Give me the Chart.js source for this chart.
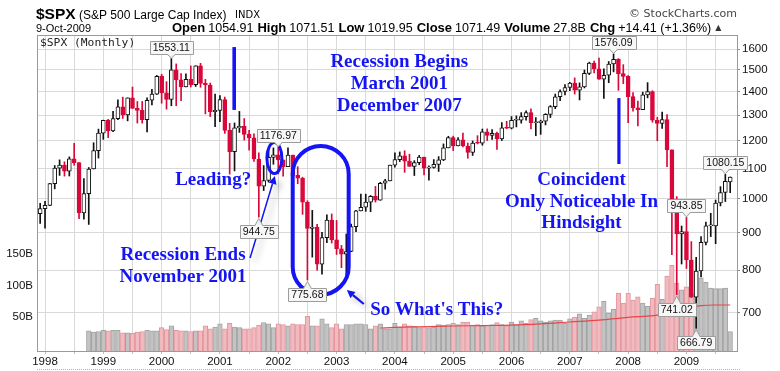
<!DOCTYPE html>
<html>
<head>
<meta charset="utf-8">
<title>$SPX Monthly</title>
<script src="https://cdn.jsdelivr.net/npm/chart.js@4.4.1/dist/chart.umd.min.js"></script>
<style>
html,body{margin:0;padding:0;background:#fff;overflow:hidden;}
#box{position:relative;width:780px;height:371px;}
canvas{display:block;}
</style>
</head>
<body>
<div id="box"><canvas id="chart" width="780" height="371"></canvas></div>
<script>
// ================= DATA =================
// Monthly bars from Dec 1997 to Oct 2009 (x = months since Jan 1998)
const firstMonthIndex = -1;
const yearLabels = ['1998','1999','2000','2001','2002','2003','2004','2005','2006','2007','2008','2009'];
const gridMonths = [0,6,12,18,24,30,36,42,48,54,60,66,72,78,84,90,96,102,108,114,120,126,132,138];
const priceTicks = [700,800,900,1000,1100,1200,1300,1400,1500,1600];
const volTicks = [50,100,150];

const opens = [955.40,
 970.43,980.28,1049.34,1101.75,1111.75,1090.82,1133.84,1120.67,957.28,1017.01,1098.67,1163.63,
 1229.23,1279.64,1238.33,1286.37,1335.18,1301.84,1372.71,1328.72,1320.41,1282.71,1362.93,1388.91,
 1469.25,1394.46,1366.42,1498.58,1452.43,1420.60,1454.60,1430.83,1517.68,1436.51,1429.40,1314.95,
 1320.28,1366.01,1239.94,1160.33,1249.46,1255.82,1224.42,1211.23,1133.58,1040.94,1059.78,1139.45,
 1148.08,1130.20,1106.73,1147.39,1076.92,1067.14,989.82,911.62,916.07,815.28,885.76,936.31,
 879.82,855.70,841.15,848.18,916.92,963.59,974.50,990.31,1008.01,995.97,1050.71,1058.20,
 1111.92,1131.13,1144.94,1126.21,1107.30,1120.68,1140.84,1101.72,1104.24,1114.58,1130.20,1173.82,
 1211.92,1181.27,1203.60,1180.59,1156.85,1191.50,1191.33,1234.18,1220.33,1228.81,1207.01,1249.48,
 1248.29,1280.08,1280.66,1294.83,1310.61,1270.09,1270.20,1276.66,1303.82,1335.85,1377.94,1400.63,
 1418.30,1438.24,1406.82,1420.86,1482.37,1530.62,1503.35,1455.27,1473.99,1526.75,1549.38,1481.14,
 1468.36,1378.55,1330.63,1322.70,1385.59,1400.38,1280.00,1267.38,1282.83,1166.36,968.75,896.24,
 903.25,825.88,735.09,797.87,872.81,919.14,919.32,987.48,1020.62,1054.91];

const highs = [986.25,
 992.65,1050.66,1110.58,1130.52,1123.86,1141.16,1190.58,1121.20,1066.11,1103.78,1192.97,1244.93,
 1280.37,1283.75,1316.55,1364.87,1375.98,1372.93,1420.33,1357.48,1357.74,1373.17,1410.39,1473.10,
 1478.00,1444.55,1553.11,1527.19,1481.51,1480.80,1517.32,1518.53,1530.09,1454.82,1438.46,1389.06,
 1383.37,1376.38,1267.42,1269.30,1315.93,1286.62,1239.78,1226.27,1155.40,1110.61,1163.38,1173.62,
 1176.97,1130.20,1173.94,1147.84,1106.59,1070.74,994.46,965.00,924.02,900.69,951.57,954.28,
 935.05,864.64,895.90,924.24,965.38,1015.33,1015.41,1011.01,1040.29,1053.79,1063.65,1112.56,
 1155.38,1158.98,1163.23,1150.57,1127.74,1146.34,1140.84,1109.68,1131.54,1142.05,1188.46,1217.33,
 1217.80,1212.16,1229.11,1191.88,1199.56,1219.59,1245.15,1245.86,1243.13,1233.34,1270.64,1275.80,
 1294.90,1297.57,1310.88,1318.16,1326.70,1290.68,1280.42,1306.74,1340.28,1389.45,1407.89,1431.81,
 1441.61,1461.57,1438.89,1498.02,1535.56,1540.56,1555.90,1503.89,1538.74,1576.09,1552.76,1523.57,
 1471.77,1396.02,1359.68,1397.84,1440.24,1404.05,1292.17,1313.15,1303.04,1167.03,1007.51,918.85,
 943.85,875.01,832.98,888.70,930.17,956.23,996.68,1039.47,1080.15,1071.51];

const lows = [926.00,
 912.83,979.68,1032.38,1076.70,1074.39,1074.67,1111.79,939.98,939.01,923.32,1098.67,1136.89,
 1205.46,1211.89,1234.67,1282.56,1287.20,1277.47,1328.72,1268.68,1268.37,1233.70,1343.03,1387.38,
 1350.14,1325.07,1339.40,1339.40,1361.09,1420.60,1420.60,1422.67,1419.44,1305.79,1294.90,1254.07,
 1274.62,1228.33,1081.19,1091.99,1232.00,1203.03,1165.54,1124.87,944.75,1026.76,1054.31,1114.93,
 1081.66,1074.36,1106.73,1063.46,1048.96,952.92,775.68,833.44,800.20,790.00,872.05,871.10,
 840.34,806.29,788.90,847.85,902.83,963.59,962.10,960.84,990.36,995.97,1031.20,1058.20,
 1105.08,1124.44,1087.16,1107.23,1076.32,1113.32,1078.78,1060.72,1101.29,1090.19,1127.60,1173.76,
 1163.75,1180.95,1176.92,1136.15,1146.18,1188.30,1183.55,1201.07,1205.35,1168.20,1201.07,1246.59,
 1245.74,1253.61,1268.42,1280.74,1245.34,1219.29,1224.54,1261.30,1290.93,1327.10,1360.98,1385.93,
 1403.97,1389.42,1363.98,1416.37,1476.70,1484.18,1454.25,1370.60,1439.76,1489.56,1406.10,1435.65,
 1270.05,1316.75,1256.98,1324.35,1373.07,1272.00,1200.44,1247.45,1106.42,839.80,741.02,815.69,
 804.22,734.52,666.79,783.32,866.10,888.86,869.32,978.51,991.97,1019.95];

const closes = [970.43,
 980.28,1049.34,1101.75,1111.75,1090.82,1133.84,1120.67,957.28,1017.01,1098.67,1163.63,1229.23,
 1279.64,1238.33,1286.37,1335.18,1301.84,1372.71,1328.72,1320.41,1282.71,1362.93,1388.91,1469.25,
 1394.46,1366.42,1498.58,1452.43,1420.60,1454.60,1430.83,1517.68,1436.51,1429.40,1314.95,1320.28,
 1366.01,1239.94,1160.33,1249.46,1255.82,1224.42,1211.23,1133.58,1040.94,1059.78,1139.45,1148.08,
 1130.20,1106.73,1147.39,1076.92,1067.14,989.82,911.62,916.07,815.28,885.76,936.31,879.82,
 855.70,841.15,848.18,916.92,963.59,974.50,990.31,1008.01,995.97,1050.71,1058.20,1111.92,
 1131.13,1144.94,1126.21,1107.30,1120.68,1140.84,1101.72,1104.24,1114.58,1130.20,1173.82,1211.92,
 1181.27,1203.60,1180.59,1156.85,1191.50,1191.33,1234.18,1220.33,1228.81,1207.01,1249.48,1248.29,
 1280.08,1280.66,1294.83,1310.61,1270.09,1270.20,1276.66,1303.82,1335.85,1377.94,1400.63,1418.30,
 1438.24,1406.82,1420.86,1482.37,1530.62,1503.35,1455.27,1473.99,1526.75,1549.38,1481.14,1468.36,
 1378.55,1330.63,1322.70,1385.59,1400.38,1280.00,1267.38,1282.83,1166.36,968.75,896.24,903.25,
 825.88,735.09,797.87,872.81,919.14,919.32,987.48,1020.62,1057.08,1071.49];

// monthly volume, billions of shares (none before Oct 1998)
const volumes = [null,
 null,null,null,null,null,null,null,null,null,28,26,27,
 29,28,29,29,25,25,24,26,27,29,28,28,
 33,30,36,29,28,28,27,28,28,36,31,34,
 39,31,40,34,33,31,31,33,37,41,39,33,
 39,38,36,39,38,38,51,36,36,47,39,33,
 39,31,38,38,39,39,38,31,36,39,31,31,
 40,34,39,36,35,33,35,33,34,38,37,38,
 40,38,42,42,37,38,36,37,38,41,38,36,
 42,38,44,40,46,48,44,42,44,45,45,40,
 47,50,55,48,53,58,66,75,56,62,88,72,
 88,77,82,72,67,80,102,78,115,132,104,93,
 98,88,122,112,105,96,95,95,96,27];

// volume moving average
const volMaMonths = [69,72,78,84,90,96,102,108,114,120,126,129,132,135,138,141];
const volMaValues = [32.5,33.5,34.5,35.7,36.3,37,39,42,45,49.5,53,58,64,68,69,69];

const headerStats = [['Open','1054.91'],['High','1071.51'],['Low','1019.95'],['Close','1071.49'],['Volume','27.8B'],['Chg','+14.41 (+1.36%)']];

// ================= DERIVED =================
const monthX = closes.map((_, k) => firstMonthIndex + k);
const upMonth = closes.map((c, k) => c >= (k > 0 ? closes[k - 1] : opens[k]));
const RED = '#d9083a', BLACK = '#111111', BLUE = '#1414f5';
const X_MIN = -1.65, X_MAX = 142.4, P_MIN = 621, P_MAX = 1672, V_MIN = -4, V_MAX = 497.6;

// annotation anchors
const callouts = [
  {k:27, field:'high'}, {k:49, field:'high'}, {k:45, field:'low'}, {k:55, field:'low'},
  {k:118, field:'high'}, {k:133, field:'high'}, {k:131, field:'low'}, {k:135, field:'low'}, {k:141, field:'high'}
];
const notes = [
  {x:72.9, p:1511, lines:['Recession Begins','March 2001','December 2007']},
  {x:34.6, p:1045, lines:['Leading?']},
  {x:28.4, p:826, lines:['Recession Ends','November 2001']},
  {x:80.6, p:695, lines:["So What's This?"]},
  {x:110.4, p:1045, lines:['Coincident','Only Noticeable In','Hindsight']}
];
const vlines = [{x:38.93, p1:1610, p2:1322, w:3.6}, {x:118.1, p1:1372, p2:1116, w:3.2}];
const ellipseNote = {x:47.2, p:1137, rx:7.5, ry:15.5, w:3};
const stadiumNote = {x1:50.97, x2:62.49, p1:1180.7, p2:740.8, w:4};
const arrows = [{x1:42.2, p1:831, x2:47.3, p2:1075, w:1.5}, {x1:65.6, p1:719.6, x2:62.1, p2:751.8, w:2.2}];

// ================= PLUGIN =================
function arrowPath(ctx, x1, y1, x2, y2, w, head) {
  const a = Math.atan2(y2 - y1, x2 - x1);
  const bx = x2 - head * Math.cos(a), by = y2 - head * Math.sin(a);
  ctx.lineWidth = w;
  ctx.beginPath(); ctx.moveTo(x1, y1); ctx.lineTo(bx, by); ctx.stroke();
  ctx.beginPath();
  ctx.moveTo(x2, y2);
  ctx.lineTo(bx + head * 0.5 * Math.sin(a), by - head * 0.5 * Math.cos(a));
  ctx.lineTo(bx - head * 0.5 * Math.sin(a), by + head * 0.5 * Math.cos(a));
  ctx.closePath(); ctx.fill();
}

const overlay = {
  id: 'overlay',
  afterDatasetsDraw(chart) {
    const ctx = chart.ctx, ca = chart.chartArea;
    const px = v => chart.scales.x.getPixelForValue(v);
    const py = v => chart.scales.y.getPixelForValue(v);
    ctx.save();
    // top frame line
    ctx.strokeStyle = '#9a9a9a'; ctx.lineWidth = 1;
    ctx.beginPath(); ctx.moveTo(ca.left, ca.top + 0.5); ctx.lineTo(ca.right, ca.top + 0.5); ctx.stroke();

    // chart name
    ctx.fillStyle = '#222'; ctx.font = '11.3px "DejaVu Sans Mono"'; ctx.textBaseline = 'alphabetic'; ctx.textAlign = 'left';
    ctx.fillText('$SPX (Monthly)', ca.left + 3, ca.top + 11);

    // blue shapes
    ctx.strokeStyle = BLUE; ctx.fillStyle = BLUE;
    vlines.forEach(l => { ctx.lineWidth = l.w; ctx.beginPath(); ctx.moveTo(px(l.x), py(l.p1)); ctx.lineTo(px(l.x), py(l.p2)); ctx.stroke(); });
    ctx.lineWidth = ellipseNote.w;
    ctx.beginPath(); ctx.ellipse(px(ellipseNote.x), py(ellipseNote.p), ellipseNote.rx, ellipseNote.ry, 0, 0, Math.PI * 2); ctx.stroke();
    {
      const l = px(stadiumNote.x1), r = px(stadiumNote.x2), t = py(stadiumNote.p1), b = py(stadiumNote.p2);
      const rad = (r - l) / 2;
      ctx.lineWidth = stadiumNote.w;
      ctx.beginPath();
      ctx.moveTo(l, t + rad);
      ctx.arc(l + rad, t + rad, rad, Math.PI, 0);
      ctx.lineTo(r, b - rad);
      ctx.arc(l + rad, b - rad, rad, 0, Math.PI);
      ctx.closePath(); ctx.stroke();
    }
    ctx.save();
    ctx.shadowColor = 'rgba(0,0,0,0.28)'; ctx.shadowBlur = 6; ctx.shadowOffsetX = 5; ctx.shadowOffsetY = 4;
    arrows.forEach(a => arrowPath(ctx, px(a.x1), py(a.p1), px(a.x2), py(a.p2), a.w, 8));
    ctx.restore();

    // blue notes
    ctx.fillStyle = BLUE; ctx.font = 'bold 19px "Liberation Serif"'; ctx.textAlign = 'center';
    notes.forEach(n => { n.lines.forEach((s, i) => ctx.fillText(s, px(n.x), py(n.p) + i * 21.6)); });

    // value callouts
    ctx.font = '10.5px "Liberation Sans"';
    callouts.forEach(c => {
      const v = c.field === 'high' ? highs[c.k] : lows[c.k];
      const txt = v.toFixed(2);
      const x = px(monthX[c.k]), y = py(v);
      const w = Math.round(ctx.measureText(txt).width + 6), h = 13;
      const bx = Math.round(x - w / 2) + 0.5;
      const by = c.field === 'high' ? Math.round(y - 5 - h) + 0.5 : Math.round(y + 8) + 0.5;
      ctx.fillStyle = '#f7f7f7'; ctx.strokeStyle = '#9c9c9c'; ctx.lineWidth = 1;
      ctx.beginPath(); ctx.rect(bx, by, w, h); ctx.fill(); ctx.stroke();
      ctx.beginPath();
      if (c.field === 'high') { ctx.moveTo(x - 4, by + h); ctx.lineTo(x, y - 0.5); ctx.lineTo(x + 4, by + h); }
      else { ctx.moveTo(x - 4, by); ctx.lineTo(x, y + 1.5); ctx.lineTo(x + 4, by); }
      ctx.fillStyle = '#f0f0f0'; ctx.fill(); ctx.stroke();
      ctx.fillStyle = '#f7f7f7'; ctx.fillRect(x - 3, c.field === 'high' ? by + h - 1 : by - 0.5, 6, 1.5);
      ctx.fillStyle = '#111'; ctx.textAlign = 'center'; ctx.textBaseline = 'middle';
      ctx.fillText(txt, x, by + h / 2 + 0.5);
    });
    ctx.restore();
  },
  afterDraw(chart) {
    const ctx = chart.ctx;
    ctx.save();
    ctx.textAlign = 'left'; ctx.textBaseline = 'alphabetic'; ctx.fillStyle = '#000';
    ctx.font = 'bold 15.5px "Liberation Sans"'; ctx.fillText('$SPX', 36, 18.5);
    ctx.font = '12px "Liberation Sans"'; ctx.fillText('(S&P 500 Large Cap Index)', 79, 18.5);
    ctx.font = '10px "DejaVu Sans"'; ctx.fillText('INDX', 235, 18);
    ctx.font = '11px "DejaVu Sans"'; ctx.fillStyle = '#444'; ctx.textAlign = 'right';
    ctx.fillText('\u00A9 StockCharts.com', 737, 17);
    ctx.textAlign = 'left'; ctx.fillStyle = '#000';
    ctx.font = '11px "Liberation Sans"'; ctx.fillText('9-Oct-2009', 36, 31.5);
    let x = 172;
    headerStats.forEach(([l, v]) => {
      ctx.font = 'bold 13px "Liberation Sans"'; ctx.fillText(l, x, 31.5); x += ctx.measureText(l).width + 3;
      ctx.font = '12.5px "Liberation Sans"'; ctx.fillText(v, x, 31.5); x += ctx.measureText(v).width + 4;
    });
    ctx.fillStyle = '#333'; ctx.font = '8px "DejaVu Sans"'; ctx.fillText('\u25B2', x, 30);
    // bottom dotted rule
    ctx.strokeStyle = '#b5b5b5'; ctx.lineWidth = 1; ctx.setLineDash([1, 1]);
    ctx.beginPath(); ctx.moveTo(37, 369.5); ctx.lineTo(740, 369.5); ctx.stroke();
    ctx.restore();
  }
};

// ================= CHART =================
Chart.defaults.font.family = '"Liberation Sans", Arial, sans-serif';
Chart.defaults.font.size = 11;
Chart.defaults.color = '#222';

new Chart(document.getElementById('chart'), {
  type: 'bar',
  data: {
    datasets: [
      {
        type: 'bar', label: 'Volume', yAxisID: 'yVol',
        data: volumes.map((v, k) => ({x: monthX[k], y: v})),
        backgroundColor: upMonth.map(u => u ? '#c3c3c3' : '#f1babf'),
        borderColor: upMonth.map(u => u ? '#a3a3a3' : '#e2959d'),
        borderWidth: 1, borderSkipped: 'start', barThickness: 4.6, grouped: false, base: V_MIN, order: 10
      },
      {
        type: 'line', label: 'Volume MA', yAxisID: 'yVol',
        data: volMaMonths.map((m, j) => ({x: m, y: volMaValues[j]})),
        borderColor: '#e6464c', borderWidth: 1.2, pointRadius: 0, tension: 0.35, cubicInterpolationMode: 'monotone', order: 9
      },
      {
        type: 'bar', label: 'Range', yAxisID: 'y',
        data: monthX.map((x, k) => ({x, y: [lows[k], highs[k]]})),
        backgroundColor: upMonth.map(u => u ? BLACK : RED),
        borderWidth: 0, barThickness: 1, grouped: false, order: 2
      },
      {
        type: 'bar', label: 'Body', yAxisID: 'y',
        data: monthX.map((x, k) => ({x, y: [opens[k], closes[k]]})),
        backgroundColor: closes.map((c, k) => c < opens[k] ? RED : '#ffffff'),
        borderColor: upMonth.map(u => u ? BLACK : RED),
        borderWidth: 1, borderSkipped: false, barThickness: 4, minBarLength: 1, grouped: false, order: 1
      }
    ]
  },
  options: {
    responsive: false, animation: false, devicePixelRatio: 1, events: [],
    layout: {padding: {top: 35, left: 0, right: 0, bottom: 0}},
    plugins: {legend: {display: false}, tooltip: {enabled: false}},
    scales: {
      x: {
        type: 'linear', min: X_MIN, max: X_MAX, offset: false,
        afterBuildTicks: s => { s.ticks = gridMonths.map(v => ({value: v})); },
        afterFit: s => { s.height = 20; },
        ticks: {autoSkip: false, maxRotation: 0, padding: 1, color: '#111', font: {size: 11.5},
          callback: v => (v % 12 === 0 ? yearLabels[v / 12] : '')},
        grid: {color: '#d9d9d9', tickLength: 3, offset: false, tickColor: '#bbb'},
        border: {color: '#9a9a9a'}
      },
      y: {
        type: 'logarithmic', position: 'right', min: P_MIN, max: P_MAX,
        afterBuildTicks: s => { s.ticks = priceTicks.map(v => ({value: v})); },
        afterFit: s => { s.width = 43; },
        ticks: {padding: 2, color: '#111', font: {size: 11.5}, callback: v => String(v)},
        grid: {color: '#d9d9d9', tickLength: 3, tickColor: '#888'},
        border: {color: '#9a9a9a'}
      },
      yVol: {
        type: 'linear', position: 'left', min: V_MIN, max: V_MAX,
        afterBuildTicks: s => { s.ticks = volTicks.map(v => ({value: v})); },
        afterFit: s => { s.width = 37; },
        ticks: {padding: 4, color: '#111', font: {size: 11.5}, callback: v => v + 'B'},
        grid: {drawOnChartArea: false, drawTicks: false},
        border: {color: '#9a9a9a'}
      }
    }
  },
  plugins: [overlay]
});
</script>
</body>
</html>
